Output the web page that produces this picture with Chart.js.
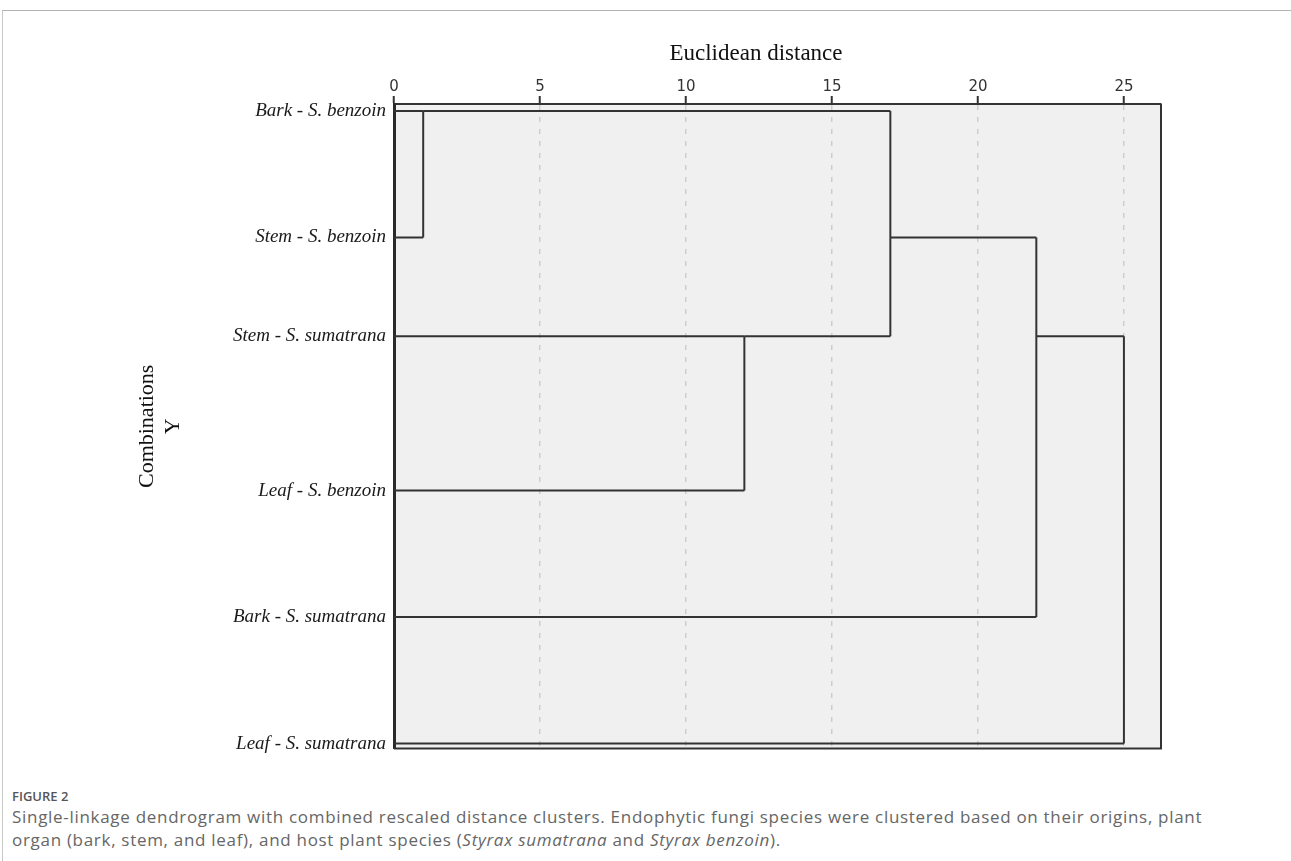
<!DOCTYPE html>
<html>
<head>
<meta charset="utf-8">
<script src="https://cdn.jsdelivr.net/npm/chart.js@4.4.1/dist/chart.umd.min.js"></script>
<style>
    html, body { margin:0; padding:0; background:#fff; }
    body { width:1291px; height:861px; position:relative; overflow:hidden; }
    .frame { position:absolute; left:2px; top:10px; width:1400px; height:900px; border-top:1px solid #b4b4b4; border-left:1px solid #c8c8c8; }
    .chart-box { position:absolute; left:0; top:0; width:1291px; height:768px; }
    .fig-label { position:absolute; left:12px; top:787px; font:600 13px 'Open Sans', sans-serif; color:#555; }
    .fig-caption { position:absolute; left:12px; top:805px; font:17px 'Open Sans', sans-serif; letter-spacing:0.7px; line-height:23px; color:#666; white-space:nowrap; }
</style>
</head>
<body>
<div class="frame"></div>
<div class="chart-box"><canvas id="dendroChart"></canvas></div>
<div class="fig-label">FIGURE 2</div>
<div class="fig-caption">Single-linkage dendrogram with combined rescaled distance clusters. Endophytic fungi species were clustered based on their origins, plant<br>organ (bark, stem, and leaf), and host plant species (<i>Styrax sumatrana</i> and <i>Styrax benzoin</i>).</div>

<script>
// leaves, top to bottom, and the row each one sits on
const leafNames = ['Bark - S. benzoin', 'Stem - S. benzoin', 'Stem - S. sumatrana', 'Leaf - S. benzoin', 'Bark - S. sumatrana', 'Leaf - S. sumatrana'];
const leafRows = [0, 1, 1.78, 3, 4, 5];

// merges (rescaled distance), children ('L' = leaf, 'M' = earlier merge), row the joined branch continues on
const mergeHeights = [1, 12, 17, 22, 25];
const mergeLeft = ['L0', 'L2', 'M0', 'M2', 'M3'];
const mergeRight = ['L1', 'L3', 'M1', 'L4', 'L5'];
const mergeRowLeaf = [0, 2, 1, 2, 2];

const xTicks = [0, 5, 10, 15, 20, 25];
const xMax = 26.27;

function nodeAt(id) {
    const k = parseInt(id.slice(1), 10);
    if (id[0] === 'L') return { x: 0, y: leafRows[k] };
    return { x: mergeHeights[k], y: leafRows[mergeRowLeaf[k]] };
}

const segments = [];
mergeHeights.forEach((h, k) => {
    const a = nodeAt(mergeLeft[k]), b = nodeAt(mergeRight[k]);
    segments.push([{ x: a.x, y: a.y }, { x: h, y: a.y }]);
    segments.push([{ x: b.x, y: b.y }, { x: h, y: b.y }]);
    segments.push([{ x: h, y: a.y }, { x: h, y: b.y }]);
});

const plotFrame = {
    id: 'plotFrame',
    beforeDraw(chart) {
        const { ctx, chartArea: a } = chart;
        ctx.save();
        ctx.fillStyle = '#f0f0f0';
        ctx.fillRect(a.left, a.top, a.right - a.left, a.bottom - a.top);
        ctx.restore();
    },
    afterDraw(chart) {
        const { ctx, chartArea: a } = chart;
        ctx.save();
        ctx.strokeStyle = '#333';
        ctx.lineWidth = 2;
        ctx.beginPath();
        ctx.moveTo(a.left, a.bottom); ctx.lineTo(a.right, a.bottom); ctx.lineTo(a.right, a.top);
        ctx.stroke();
        ctx.fillStyle = '#111';
        ctx.font = '23px "Liberation Serif", serif';
        ctx.textAlign = 'center';
        ctx.textBaseline = 'alphabetic';
        ctx.fillText('Euclidean distance', 756, 60);
        ctx.restore();
    }
};

new Chart(document.getElementById('dendroChart').getContext('2d'), {
    type: 'scatter',
    data: {
        datasets: segments.map(s => ({
            data: s, showLine: true, borderColor: '#333', borderWidth: 2,
            pointRadius: 0, pointHoverRadius: 0, fill: false
        }))
    },
    options: {
        responsive: true, maintainAspectRatio: false, animation: false,
        layout: { padding: { left: 0, top: 0, right: 130, bottom: 4 } },
        plugins: { legend: { display: false }, tooltip: { enabled: false } },
        scales: {
            x: {
                type: 'linear', position: 'top', min: 0, max: xMax,
                afterBuildTicks: s => { s.ticks = xTicks.map(v => ({ value: v })); },
                afterFit: s => { s.height = 104; },
                ticks: { color: '#333', padding: 0, font: { family: 'DejaVu Sans', size: 15 } },
                grid: {
                    color: c => c.index === 0 ? 'rgba(0,0,0,0)' : '#cdcdcd', lineWidth: 1.5,
                    tickColor: '#333', tickWidth: 2, tickLength: 8
                },
                border: { color: '#333', width: 2, dash: [5, 7] }
            },
            y: {
                type: 'linear', reverse: true, min: -0.055, max: 5.04,
                afterBuildTicks: s => { s.ticks = leafRows.map(v => ({ value: v })); },
                afterFit: s => { s.width = 394; },
                ticks: {
                    color: '#1a1a1a', padding: 8,
                    font: { family: 'Liberation Serif', size: 19, style: 'italic' },
                    callback: (v, i) => leafNames[i]
                },
                grid: { drawOnChartArea: false, drawTicks: false },
                border: { color: '#2a2a2a', width: 3 },
                title: {
                    display: true, text: ['Combinations', 'Y'], color: '#111',
                    font: { family: 'Liberation Serif', size: 22 }, padding: { top: 134 }
                }
            }
        }
    },
    plugins: [plotFrame]
});
</script>
</body>
</html>
